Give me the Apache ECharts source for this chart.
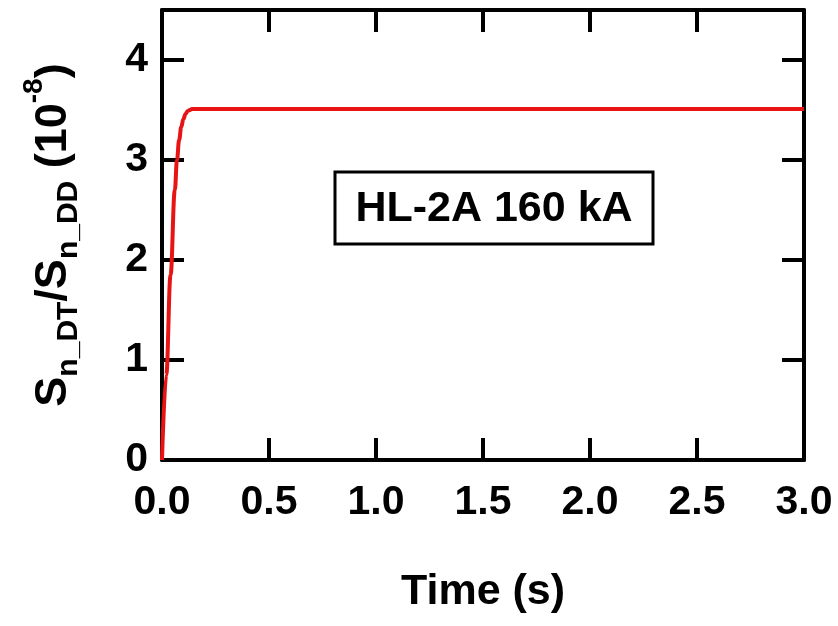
<!DOCTYPE html>
<html>
<head>
<meta charset="utf-8">
<script src="https://cdn.jsdelivr.net/npm/echarts@6/dist/echarts.min.js"></script>
<style>
	html, body { margin: 0; padding: 0; background: #fff; }
	#chart { width: 838px; height: 626px; }
</style>
</head>
<body>
<div id="chart"></div>
<script>
// time (s) and ratio values (10^-8)
var timeS = [0, 0.02, 0.04, 0.06, 0.07, 0.08, 0.09, 0.1, 0.11, 0.12, 0.13, 0.14, 0.15, 3.0];
var ratio = [0, 0.85, 1.85, 2.7, 3.0, 3.2, 3.33, 3.41, 3.46, 3.49, 3.5, 3.51, 3.51, 3.51];
var xTicks = [0, 0.5, 1, 1.5, 2, 2.5, 3];
var yTicks = [0, 1, 2, 3, 4];

var font = 'Liberation Sans';

var main = {
	init: function() {
		var myChart = echarts.init(document.getElementById('chart'));

		var pts = timeS.map(function(t, i) {
			return [t, ratio[i]];
		});

		var axisLine = { show: true, onZero: false, lineStyle: { color: '#000', width: 4 } };
		var tickStyle = { show: true, inside: true, length: 22, lineStyle: { color: '#000', width: 4 } };

		var option = {
			animation: false,
			grid: {
				left: 162,
				right: 34,
				top: 10,
				bottom: 166
			},
			xAxis: [{
				type: 'value',
				min: xTicks[0],
				max: xTicks[xTicks.length - 1],
				interval: 0.5,
				name: 'Time (s)',
				nameLocation: 'middle',
				nameGap: 111,
				nameTextStyle: { fontFamily: font, fontWeight: 'bold', fontSize: 43, color: '#000' },
				axisLine: axisLine,
				axisTick: tickStyle,
				splitLine: { show: false },
				axisLabel: {
					margin: 22,
					fontFamily: font,
					fontWeight: 'bold',
					fontSize: 41,
					color: '#000',
					formatter: function(v) { return v.toFixed(1); }
				}
			}, {
				type: 'value',
				position: 'top',
				min: xTicks[0],
				max: xTicks[xTicks.length - 1],
				interval: 0.5,
				axisLine: axisLine,
				axisTick: tickStyle,
				axisLabel: { show: false },
				splitLine: { show: false }
			}],
			yAxis: [{
				type: 'value',
				min: yTicks[0],
				max: 4.5,
				interval: 1,
				name: '{m|S}{sub|n_DT}{m|/S}{sub|n_DD}{m| (10}{sup|-8}{m|)}',
				nameLocation: 'middle',
				nameGap: 84,
				nameRotate: 90,
				nameTextStyle: {
					color: '#000',
					rich: {
						m: { fontFamily: font, fontWeight: 'bold', fontSize: 45, color: '#000', lineHeight: 48, verticalAlign: 'middle' },
						sub: { fontFamily: font, fontWeight: 'bold', fontSize: 30, color: '#000', lineHeight: 30, verticalAlign: 'bottom', padding: [0, 0, -6, 0] },
						sup: { fontFamily: font, fontWeight: 'bold', fontSize: 28, color: '#000', lineHeight: 28, verticalAlign: 'top', padding: [-10, 0, 0, 0] }
					}
				},
				axisLine: axisLine,
				axisTick: tickStyle,
				splitLine: { show: false },
				axisLabel: {
					margin: 14,
					showMaxLabel: false,
					fontFamily: font,
					fontWeight: 'bold',
					fontSize: 41,
					color: '#000'
				}
			}, {
				type: 'value',
				position: 'right',
				min: yTicks[0],
				max: 4.5,
				interval: 1,
				axisLine: axisLine,
				axisTick: tickStyle,
				axisLabel: { show: false },
				splitLine: { show: false }
			}],
			graphic: [{
				type: 'rect',
				shape: { x: 335, y: 172, width: 318, height: 72 },
				style: { fill: '#fff', stroke: '#000', lineWidth: 3 },
				z: 10
			}, {
				type: 'text',
				x: 494,
				y: 209,
				style: {
					text: 'HL-2A 160 kA',
					fontFamily: font,
					fontWeight: 'bold',
					fontSize: 43,
					fill: '#000',
					align: 'center',
					verticalAlign: 'middle'
				},
				z: 11
			}],
			series: [{
				type: 'line',
				data: pts,
				smooth: 0.4,
				smoothMonotone: 'x',
				showSymbol: false,
				lineStyle: { color: '#e81414', width: 4 },
				z: 5
			}]
		};

		myChart.setOption(option);
	}
};

main.init();
</script>
</body>
</html>
